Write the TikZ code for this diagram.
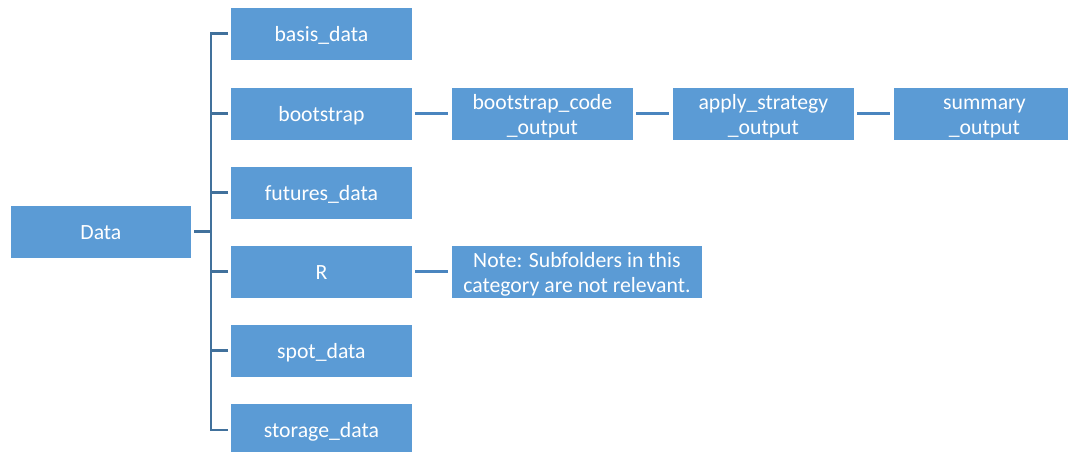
\documentclass[tikz,border=0pt]{standalone}
\usepackage{fontspec}
\setmainfont{Carlito}
\definecolor{boxblue}{HTML}{5B9BD5}
\definecolor{treeblue}{HTML}{41719C}
\definecolor{linkblue}{HTML}{4A85BF}
% invisible line prop: 15.5pt above, 3.5pt below the baseline
\newcommand\lineprop{\rule[-3.5pt]{0pt}{19pt}}
\begin{document}
\begin{tikzpicture}[x=0.75pt,y=-0.75pt,
  box/.style={draw=white, line width=0.6pt, fill=boxblue, text=white,
    minimum width=136.5pt, minimum height=39.75pt, inner sep=0pt,
    align=center, anchor=north west,
    font=\fontsize{16.3}{19}\selectfont},
  tree/.style={draw=treeblue, line width=2.1pt},
  link/.style={draw=linkblue, line width=2.1pt, shorten <=2pt, shorten >=2pt}]
\useasboundingbox (0,0) rectangle (1068,452);
\clip (0,0) rectangle (1068,452);
\fill[white] (0,0) rectangle (1068,452);

% root and first level folders
\node[box, minimum width=135.75pt] (data) at (10,205) {\lineprop Data};
\node[box] (basis)     at (230,7)   {\lineprop basis\_data};
\node[box] (bootstrap) at (230,87)  {\lineprop bootstrap};
\node[box] (futures)   at (230,166) {\lineprop futures\_data};
\node[box] (R)         at (230,245) {\lineprop R};
\node[box] (spot)      at (230,324) {\lineprop spot\_data};
\node[box] (storage)   at (230,403) {\lineprop storage\_data};

% bootstrap output chain
\node[box] (bcode)   at (451,87) {\lineprop bootstrap\_code\\\lineprop\_output};
\node[box] (apply)   at (672,87) {\lineprop apply\_strategy\\\lineprop\_output};
\node[box] (summary) at (893,87) {\lineprop summary\\\lineprop\_output};

% note attached to R
\node[box, minimum width=188.25pt] (note) at (451,245) {\lineprop Note: Subfolders in this\\\lineprop category are not relevant.};

% tree connectors
\coordinate (bustop) at (211,34);
\coordinate (busbot) at (211,429.5);
\draw[tree, line join=miter] ([xshift=-1.5pt]basis.west) -- (basis.west -| bustop) -- (storage.west -| busbot) -- ([xshift=-1.5pt]storage.west);
\foreach \n in {bootstrap,futures,R,spot}
  \draw[tree] ([xshift=-1.5pt]\n.west) -- (\n.west -| bustop);
\draw[tree] ([xshift=2pt]data.east) -- (data.east -| bustop);

% side links
\draw[link] (bootstrap.east) -- (bcode.west);
\draw[link] (bcode.east) -- (apply.west);
\draw[link] (apply.east) -- (summary.west);
\draw[link] (R.east) -- (note.west);
\end{tikzpicture}
\end{document}
